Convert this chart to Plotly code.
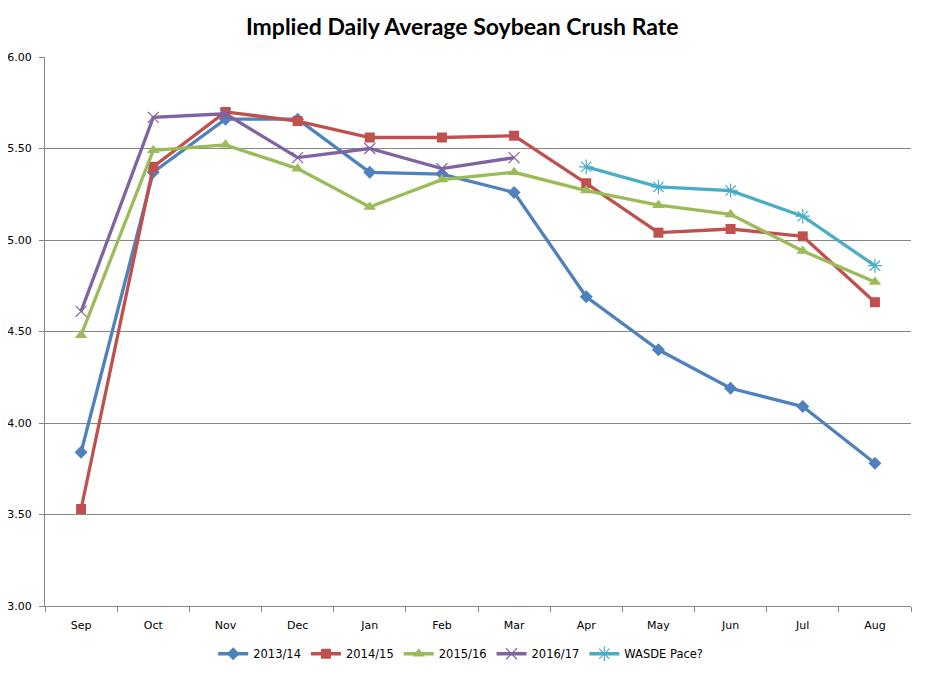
import plotly.graph_objects as go

months = ["Sep", "Oct", "Nov", "Dec", "Jan", "Feb", "Mar", "Apr", "May", "Jun", "Jul", "Aug"]
s2013 = [3.84, 5.37, 5.66, 5.66, 5.37, 5.36, 5.26, 4.69, 4.40, 4.19, 4.09, 3.78]
s2014 = [3.53, 5.40, 5.70, 5.65, 5.56, 5.56, 5.57, 5.31, 5.04, 5.06, 5.02, 4.66]
s2015 = [4.48, 5.49, 5.52, 5.39, 5.18, 5.33, 5.37, 5.27, 5.19, 5.14, 4.94, 4.77]
s2016 = [4.61, 5.67, 5.69, 5.45, 5.50, 5.39, 5.45, None, None, None, None, None]
wasde = [None, None, None, None, None, None, None, 5.40, 5.29, 5.27, 5.13, 4.86]

series = [
    ("2013/14", s2013, "#4F81BD", "diamond", 10, 0),
    ("2014/15", s2014, "#C0504D", "square", 10, 0),
    ("2015/16", s2015, "#9BBB59", "triangle-up", 11, 0),
    ("2016/17", s2016, "#8064A2", "x-thin-open", 11, 1.2),
    ("WASDE Pace?", wasde, "#4BACC6", "asterisk-open", 12, 1.2),
]

fig = go.Figure()
for name, vals, color, sym, size, mlw in series:
    fig.add_trace(go.Scatter(
        x=months, y=vals, name=name, mode="lines+markers",
        line=dict(color=color, width=3.3),
        marker=dict(symbol=sym, size=size, color=color,
                    line=dict(color=color, width=mlw)),
        connectgaps=False,
    ))

fig.update_layout(
    width=927, height=673,
    margin=dict(l=37, r=24, t=49, b=75, autoexpand=False),
    paper_bgcolor="white", plot_bgcolor="white",
    title=dict(text="<b>Implied Daily Average Soybean Crush Rate</b>",
               x=0.49, xanchor="center", y=0.972, yanchor="middle",
               font=dict(family="Lato", size=23, color="black")),
    font=dict(family="DejaVu Sans", size=11, color="black"),
    showlegend=True,
    legend=dict(orientation="h", x=0.48, xanchor="center", y=-0.087, yanchor="middle",
                font=dict(family="DejaVu Sans", size=11.5, color="black"),
                itemwidth=30, tracegroupgap=0),
)
fig.update_xaxes(
    type="category", range=[-0.5, 11.5], showgrid=False, automargin=False,
    showline=True, linecolor="#868686", linewidth=1,
    ticks="outside", tickson="boundaries", ticklen=5, tickcolor="#868686",
    ticklabelstandoff=9,
    tickfont=dict(family="DejaVu Sans", size=11), fixedrange=True,
)
fig.update_yaxes(
    range=[3, 6], dtick=0.5, tickformat=".2f", showgrid=True, automargin=False,
    gridcolor="#868686", gridwidth=1,
    showline=True, linecolor="#868686", linewidth=1,
    ticks="outside", ticklen=5, tickcolor="#868686",
    ticklabelstandoff=5,
    tickfont=dict(family="DejaVu Sans", size=11), zeroline=False,
)

fig.write_html("out.html")
